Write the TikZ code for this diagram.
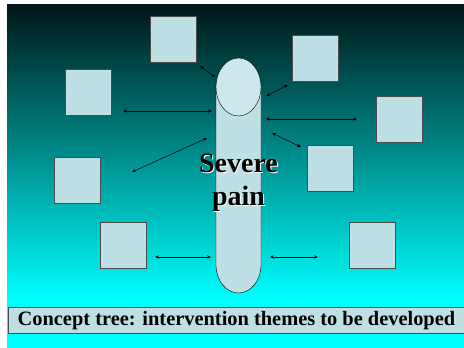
\documentclass[tikz,border=0pt]{standalone}
\usepackage{fontspec}
\setmainfont{Liberation Serif}
\usetikzlibrary{arrows.meta}
\definecolor{boxfill}{HTML}{BEE0E4}
\definecolor{ovalfill}{HTML}{CCE8EA}
\definecolor{topsea}{HTML}{001616}
\definecolor{midsea}{HTML}{00A6A6}
\definecolor{seacyan}{HTML}{00FFFF}
\tikzset{
  theme/.style={draw=black!70, line width=0.9pt, fill=boxfill, minimum size=46pt, inner sep=0pt, anchor=north west},
  link/.style={{Stealth[length=4pt,width=3.4pt]}-{Stealth[length=4pt,width=3.4pt]}, line width=0.5pt}
}
\begin{document}
\begin{tikzpicture}[x=1pt,y=-1pt] %%Concept tree
\useasboundingbox (0,0) rectangle (464,348);
\shade[top color=topsea, middle color=midsea, bottom color=seacyan] (7,4) rectangle (464,300);
\fill[seacyan] (7,299.5) rectangle (464,348);
%% theme boxes
\node[theme] (topbox) at (150,16) {};
\node[theme] (leftup) at (65,69) {};
\node[theme] (leftmid) at (54,157) {};
\node[theme] (leftlow) at (100,222) {};
\node[theme] (rightup) at (292,35) {};
\node[theme] (rightfar) at (376,96) {};
\node[theme] (rightmid) at (307,145) {};
\node[theme] (rightlow) at (349,222) {};
%% the pill
\draw[fill=boxfill] (216,87) -- (216,265) arc[start angle=180, end angle=0, x radius=22.5, y radius=28] -- (261,87) -- cycle;
\draw[fill=ovalfill] (238.5,87) ellipse [x radius=22.5, y radius=29];
%% arrows
\coordinate (a1) at (200,66);  \coordinate (a2) at (215,77);
\coordinate (b1) at (123,111); \coordinate (b2) at (212,111);
\coordinate (c1) at (266,96);  \coordinate (c2) at (288,85);
\coordinate (d1) at (266,119); \coordinate (d2) at (357,119);
\coordinate (e1) at (272,133); \coordinate (e2) at (301,147);
\coordinate (f1) at (132,172); \coordinate (f2) at (207,138);
\coordinate (g1) at (155,257); \coordinate (g2) at (211,257);
\coordinate (h1) at (270,257); \coordinate (h2) at (318,257);
\draw[link] (a1)--(a2);
\draw[link] (b1)--(b2);
\draw[link] (c1)--(c2);
\draw[link] (d1)--(d2);
\draw[link] (e1)--(e2);
\draw[link] (f1)--(f2);
\draw[link] (g1)--(g2);
\draw[link] (h1)--(h2);
%% title text with shadow
\node[font=\bfseries\fontsize{28}{33}\selectfont, align=center, text=white] (painshadow) at (239.6,183.6) {Severe\\pain};
\node[font=\bfseries\fontsize{28}{33}\selectfont, align=center] (pain) at (238.5,182.5) {Severe\\pain};
%% caption
\node[draw=black!70, line width=0.9pt, fill=boxfill, minimum width=456pt, minimum height=26pt, inner sep=0pt, anchor=north west, font=\bfseries\fontsize{20.4}{24}\selectfont] (caption) at (8,307) {Concept tree: intervention themes to be developed};
\end{tikzpicture}
\end{document}
